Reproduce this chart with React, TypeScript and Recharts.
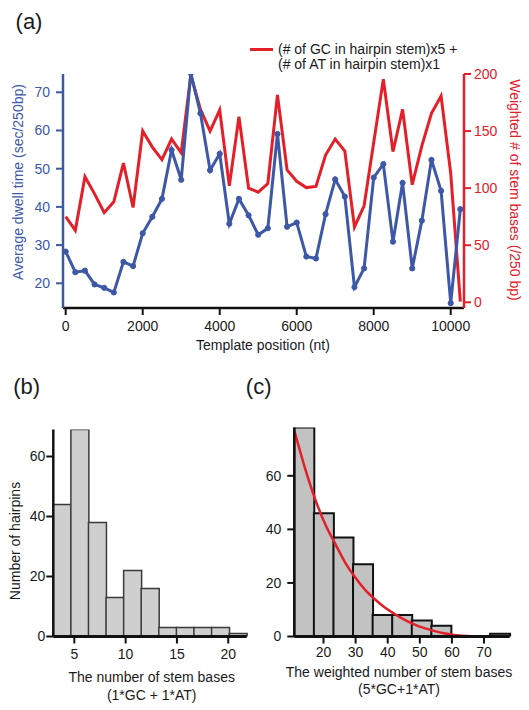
import React from 'react';
import { ComposedChart, Line, Bar, XAxis, YAxis } from 'recharts';

const FONT = '"Liberation Sans", Arial, Helvetica, sans-serif';
const BLUE = '#3D58A6';
const RED = '#E3202A';
const INK = '#1a1a1a';

// ---------- Panel (a) data ----------
const positions = [
  0, 250, 500, 750, 1000, 1250, 1500, 1750, 2000, 2250, 2500, 2750, 3000, 3250,
  3500, 3750, 4000, 4250, 4500, 4750, 5000, 5250, 5500, 5750, 6000, 6250, 6500,
  6750, 7000, 7250, 7500, 7750, 8000, 8250, 8500, 8750, 9000, 9250, 9500, 9750,
  10000, 10250,
];
const dwellTime = [
  28.3, 22.9, 23.3, 19.7, 18.8, 17.6, 25.6, 24.5, 33.1, 37.4, 42.1, 54.9, 47.1, 75.0,
  64.5, 49.6, 53.9, 35.6, 42.1, 37.8, 32.7, 34.4, 59.1, 34.8, 35.9, 27.0, 26.5,
  38.1, 47.2, 42.7, 19.0, 23.9, 47.7, 51.2, 30.9, 46.3, 23.9, 36.4, 52.3, 44.2,
  14.8, 39.4,
];
const weightedStem = [
  75, 63, 110, 95, 78.5, 88, 122, 83, 150, 136, 125, 143, 131, 199,
  169, 150, 168.5, 102, 162.6, 100, 96.5, 104, 181.6, 116, 106, 100.5, 101.5,
  129, 143, 132.5, 66, 84.5, 140, 195.5, 132, 169, 103, 137, 165.6, 180.7,
  113, 0.5,
];
const positionTicks = [0, 2000, 4000, 6000, 8000, 10000];
const dwellTicks = [20, 30, 40, 50, 60, 70];
const weightedTicks = [0, 50, 100, 150, 200];

// ---------- Panel (b) data ----------
const binStartsB = [2.95, 4.66, 6.38, 8.09, 9.8, 11.52, 13.23, 14.94, 16.66, 18.37, 20.08];
const countsB = [44, 69, 38, 13, 22, 16, 3, 3, 3, 3, 1];
const stemTicksB = [5, 10, 15, 20];
const countTicksB = [0, 20, 40, 60];

// ---------- Panel (c) data ----------
const binStartsC = [10.9, 17.0, 23.1, 29.2, 35.3, 41.4, 47.5, 53.6, 59.7, 65.8, 71.9];
const countsC = [78, 46, 37, 27, 8, 8, 6, 4, 0, 0, 1];
const weightedTicksC = [20, 30, 40, 50, 60, 70];
const countTicksC = [0, 20, 40, 60];
const fitX = [11, 14.2, 17.4, 20.5, 23.7, 26.8, 29.9, 32.9, 35.9, 38.9, 41.9, 45, 48.1, 51.2, 54.4, 57.5, 60.6, 64.8, 69, 72];
const fitY = [76.5, 63, 51.3, 42, 34.5, 27.5, 22.0, 17.5, 14.0, 11, 8.6, 6.4, 4.6, 3.2, 2.1, 1.2, 0.6, 0.2, 0, 0];

const dataA = positions.map((p, i) => ({ pos: p, dwell: dwellTime[i], weighted: weightedStem[i] }));
const dataB = binStartsB.map((b, i) => ({ bin: String(b), count: countsB[i] }));
const dataC = binStartsC.map((b, i) => ({ bin: String(b), count: countsC[i] }));
const fitData = fitX.map((x, i) => ({ x, y: fitY[i] }));

type TxtProps = {
  x: number; y: number; children: React.ReactNode; size?: number; color?: string;
  rotate?: number; anchor?: 'start' | 'middle';
};
const Txt = ({ x, y, children, size = 14, color = INK, rotate = 0, anchor = 'middle' }: TxtProps) => (
  <div
    style={{
      position: 'absolute', left: x, top: y,
      transform: `translate(${anchor === 'start' ? '0' : '-50%'}, -50%) rotate(${rotate}deg)`,
      fontSize: size, color, whiteSpace: 'nowrap', lineHeight: 1, fontFamily: FONT,
    }}
  >
    {children}
  </div>
);

const tickFont = (fill: string) => ({ fill, fontSize: 14, fontFamily: FONT });

export default function App() {
  return (
    <div style={{ position: 'absolute', left: 0, top: 0, width: 529, height: 710, background: '#fff', overflow: 'hidden', fontFamily: FONT }}>
      {/* Panel (a) */}
      <div style={{ position: 'absolute', left: 0, top: 0 }}>
        <ComposedChart width={529} height={360} data={dataA} margin={{ top: 74, right: 15, bottom: 22, left: 13 }}>
          <XAxis
            dataKey="pos" type="number" domain={[-70, 10345]} allowDataOverflow ticks={positionTicks} interval={0}
            height={30} tickSize={7} tickMargin={6}
            axisLine={{ stroke: '#111', strokeWidth: 2.5 }} tickLine={{ stroke: '#111', strokeWidth: 2 }}
            tick={tickFont(INK)}
          />
          <YAxis
            yAxisId="left" orientation="left" width={50} type="number" domain={[13.53, 74.79]} allowDataOverflow
            ticks={dwellTicks} interval={0} tickSize={7} tickMargin={6}
            axisLine={{ stroke: BLUE, strokeWidth: 2.5 }} tickLine={{ stroke: BLUE, strokeWidth: 2 }}
            tick={tickFont(BLUE)}
          />
          <YAxis
            yAxisId="right" orientation="right" width={50} type="number" domain={[-5, 200]} allowDataOverflow
            ticks={weightedTicks} interval={0} tickSize={7} tickMargin={3}
            axisLine={{ stroke: RED, strokeWidth: 2.5 }} tickLine={{ stroke: RED, strokeWidth: 2 }}
            tick={tickFont(RED)}
          />
          <Line yAxisId="right" dataKey="weighted" type="linear" stroke={RED} strokeWidth={3} dot={false} isAnimationActive={false} />
          <Line
            yAxisId="left" dataKey="dwell" type="linear" stroke={BLUE} strokeWidth={3}
            dot={{ r: 2.6, fill: BLUE, stroke: BLUE, strokeWidth: 1 }} isAnimationActive={false}
          />
        </ComposedChart>
      </div>

      <Txt x={29} y={21.7} size={22}>(a)</Txt>
      <div style={{ position: 'absolute', left: 250, top: 48, width: 23, height: 3, background: RED }} />
      <Txt x={278} y={49.3} anchor="start">(# of GC in hairpin stem)x5 +</Txt>
      <Txt x={278} y={64.3} anchor="start">(# of AT in hairpin stem)x1</Txt>
      <Txt x={18} y={182} rotate={-90} color={BLUE}>Average dwell time (sec/250bp)</Txt>
      <Txt x={515} y={190} rotate={90} color={RED}>Weighted # of stem bases (/250 bp)</Txt>
      <Txt x={263} y={345}>Template position (nt)</Txt>

      {/* Panel (b) */}
      <div style={{ position: 'absolute', left: 0, top: 400 }}>
        <ComposedChart width={260} height={310} data={dataB} margin={{ top: 29.5, right: 13.3, bottom: 43.5, left: 3.3 }} barCategoryGap={0} barGap={0}>
          <XAxis xAxisId="cat" dataKey="bin" type="category" hide height={0} />
          <XAxis
            xAxisId="num" dataKey="x" type="number" domain={[2.95, 21.8]} allowDataOverflow ticks={stemTicksB} interval={0}
            height={30} tickSize={7} tickMargin={6}
            axisLine={{ stroke: '#111', strokeWidth: 3 }} tickLine={{ stroke: '#111', strokeWidth: 2 }}
            tick={tickFont(INK)}
          />
          <YAxis
            width={50} type="number" domain={[0, 69]} allowDataOverflow ticks={countTicksB} interval={0}
            tickSize={7} tickMargin={1}
            axisLine={{ stroke: '#111', strokeWidth: 2.5 }} tickLine={{ stroke: '#111', strokeWidth: 2 }}
            tick={tickFont(INK)}
          />
          <Bar xAxisId="cat" dataKey="count" fill="#cfcfcf" stroke="#3a3a3a" strokeWidth={1.5} isAnimationActive={false} />
        </ComposedChart>
      </div>
      <Txt x={26.7} y={386.7} size={22}>(b)</Txt>
      <Txt x={15} y={541} rotate={-90}>Number of hairpins</Txt>
      <Txt x={151.7} y={676.7}>The number of stem bases</Txt>
      <Txt x={151.7} y={695}>(1*GC + 1*AT)</Txt>

      {/* Panel (c) */}
      <div style={{ position: 'absolute', left: 260, top: 400 }}>
        <ComposedChart width={269} height={310} data={dataC} margin={{ top: 27.6, right: 19.3, bottom: 43.5, left: 4.3 }} barCategoryGap={0} barGap={0}>
          <XAxis xAxisId="cat" dataKey="bin" type="category" hide height={0} />
          <XAxis
            xAxisId="num" dataKey="x" type="number" domain={[10.9, 78.0]} allowDataOverflow ticks={weightedTicksC} interval={0}
            height={30} tickSize={7} tickMargin={4}
            axisLine={{ stroke: '#111', strokeWidth: 3 }} tickLine={{ stroke: '#111', strokeWidth: 2 }}
            tick={tickFont(INK)}
          />
          <YAxis
            width={30} type="number" domain={[0, 78]} allowDataOverflow ticks={countTicksC} interval={0}
            tickSize={7} tickMargin={6}
            axisLine={{ stroke: '#111', strokeWidth: 2.5 }} tickLine={{ stroke: '#111', strokeWidth: 2 }}
            tick={tickFont(INK)}
          />
          <Bar xAxisId="cat" dataKey="count" fill="#c2c2c2" stroke="#111" strokeWidth={2} isAnimationActive={false} />
          <Line
            xAxisId="num" data={fitData} dataKey="y" type="monotone" stroke={RED} strokeWidth={2.5}
            dot={false} isAnimationActive={false}
          />
        </ComposedChart>
      </div>
      <Txt x={258.7} y={386.7} size={22}>(c)</Txt>
      <Txt x={399} y={672}>The weighted number of stem bases</Txt>
      <Txt x={399} y={689}>(5*GC+1*AT)</Txt>
    </div>
  );
}
